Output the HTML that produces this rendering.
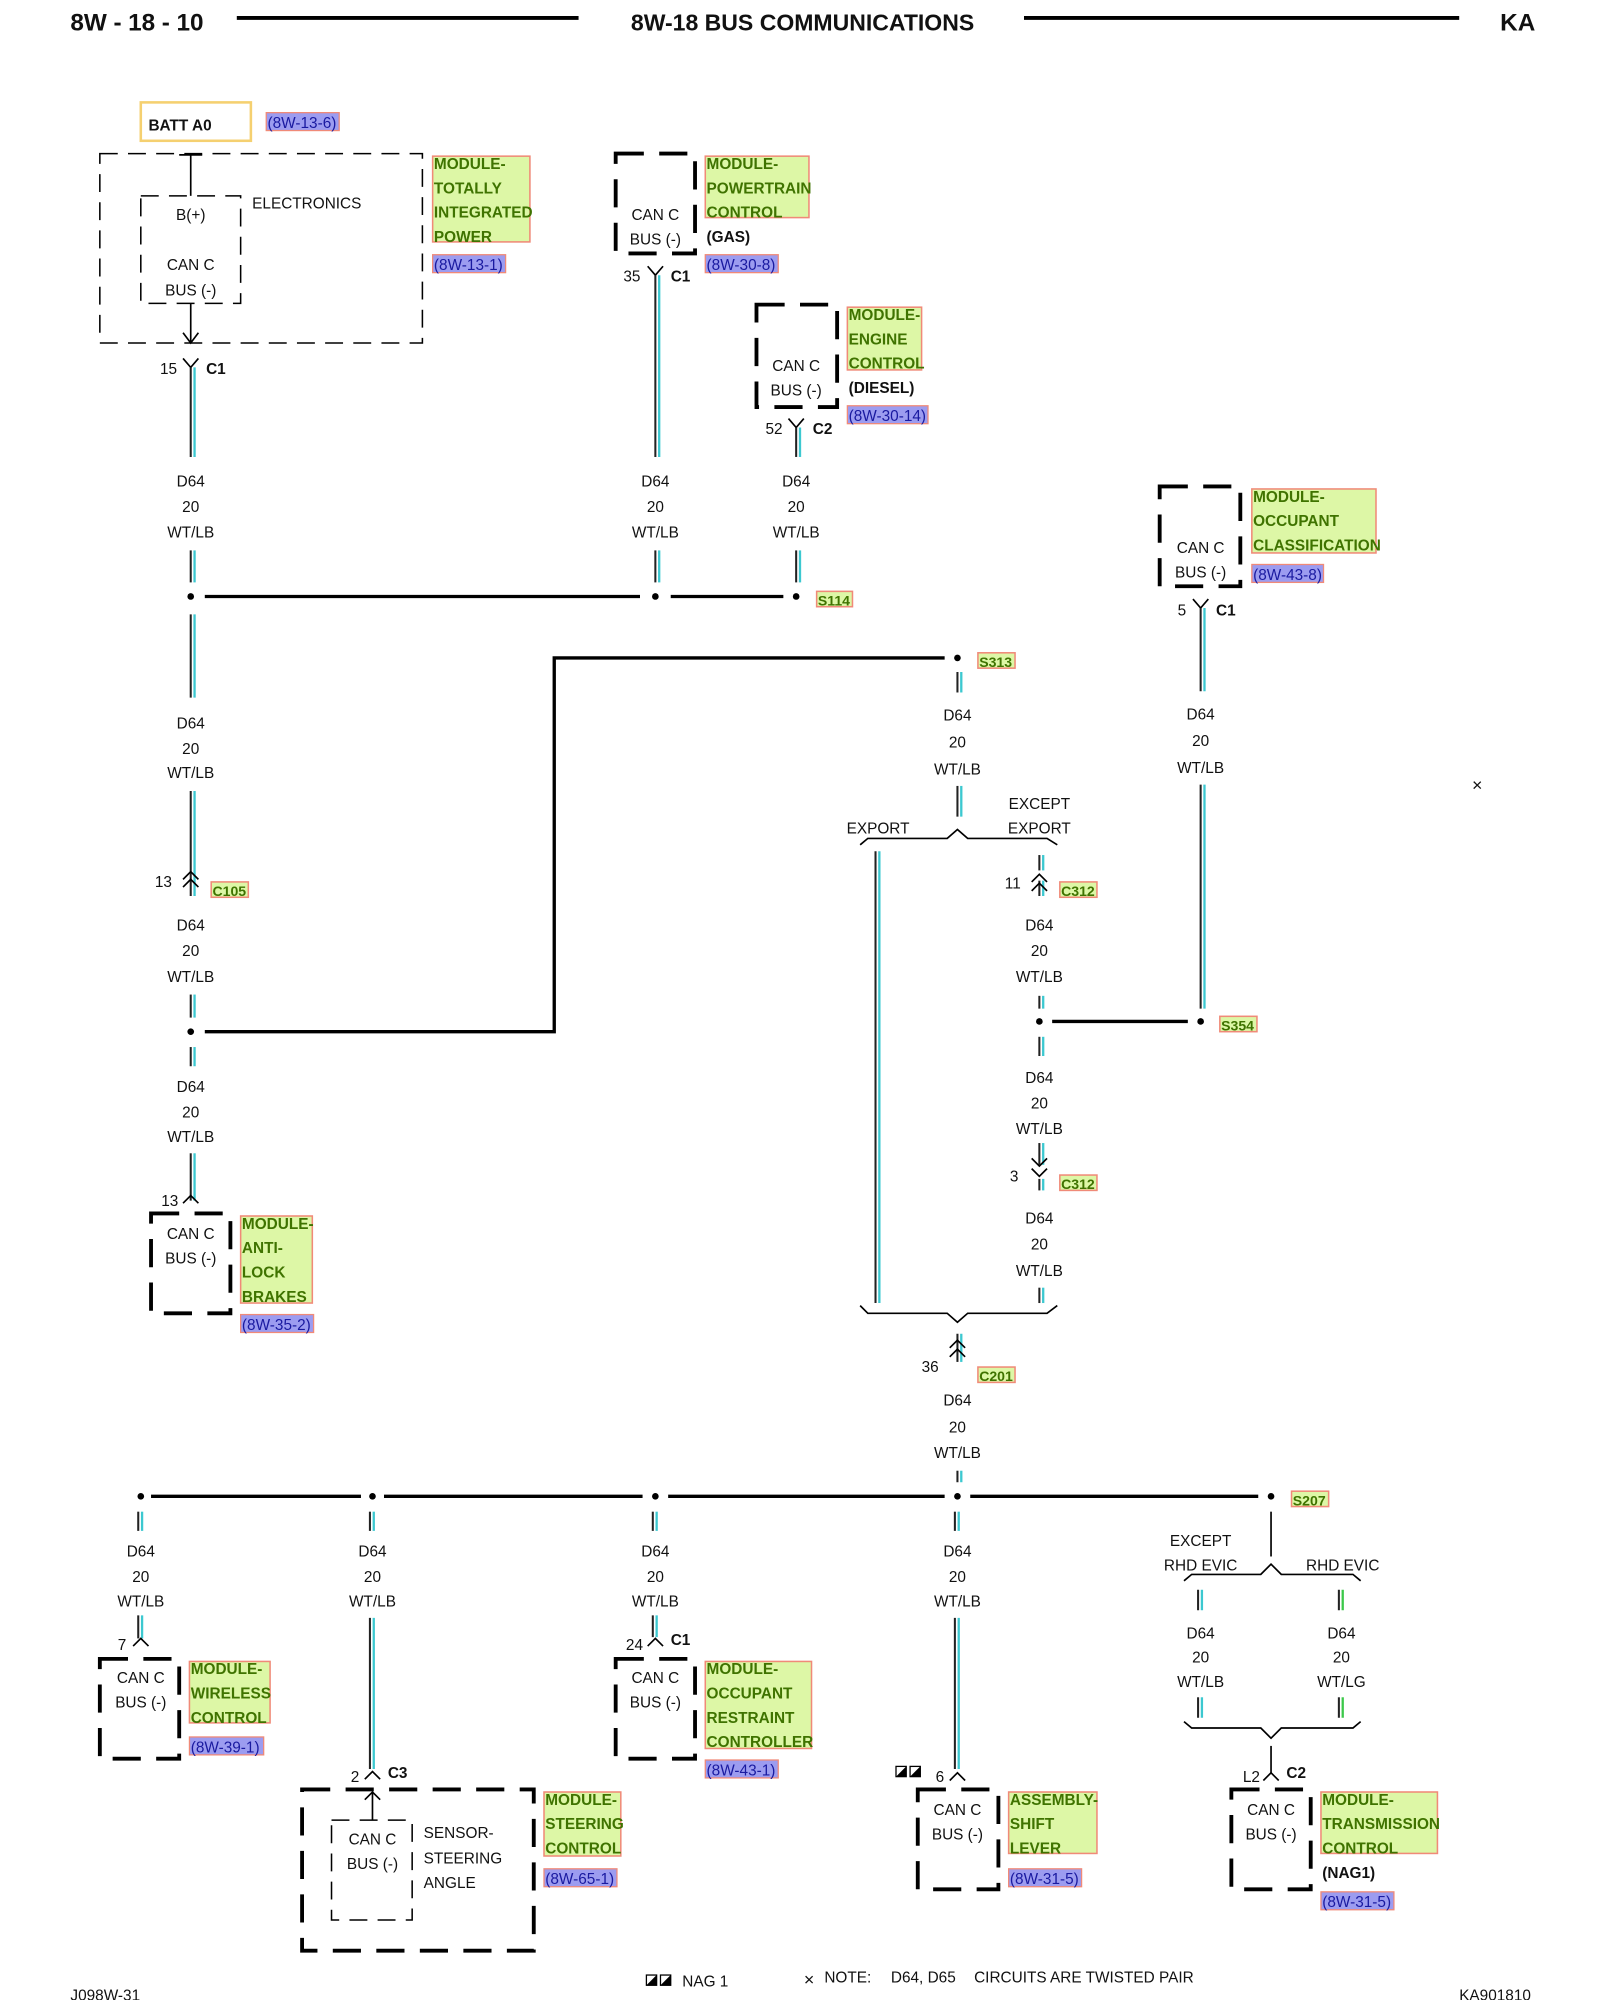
<!DOCTYPE html>
<html><head><meta charset="utf-8"><style>
html,body{margin:0;padding:0;background:#fff}
svg{display:block}
text{font-family:"Liberation Sans",Arial,sans-serif;font-size:12px;fill:#111}
.c{text-anchor:middle}
.b{font-weight:bold}
.g{font-weight:bold;fill:#3f7300;font-size:12px}
.r{fill:#1a1aa0;font-size:12px}
.k{stroke:#222;stroke-width:1.6}
.y{stroke:#3cc8d0;stroke-width:1.8}
.gr{stroke:#3cc84a;stroke-width:1.8}
.gb{fill:#ddf7a6;stroke:#f08a78;stroke-width:1.2}
.rb{fill:#9c9cf0;stroke:#f08a78;stroke-width:1}
.tb{fill:none;stroke:#000;stroke-width:3;stroke-dasharray:22 12}
.td{fill:none;stroke:#000;stroke-width:1.2;stroke-dasharray:14 8}
.l{stroke:#000;stroke-width:1.3;fill:none}
.bus{stroke:#000;stroke-width:2.6}
</style></head><body>
<svg width="1600" height="2000" viewBox="0 0 1250 1562.5" xmlns="http://www.w3.org/2000/svg">
<!-- header -->
<text x="55" y="24" style="font-size:19px;font-weight:bold" textLength="104">8W - 18 - 10</text>
<line x1="185" y1="14" x2="452" y2="14" stroke="#000" stroke-width="3"/>
<text x="627" y="24" class="c" style="font-size:18px;font-weight:bold">8W-18 BUS COMMUNICATIONS</text>
<line x1="800" y1="14" x2="1140" y2="14" stroke="#000" stroke-width="3"/>
<text x="1172" y="24" style="font-size:19px;font-weight:bold">KA</text>

<!-- BATT -->
<rect x="110" y="80" width="86" height="30" fill="none" stroke="#f5d070" stroke-width="2"/>
<text x="116" y="102" class="b">BATT A0</text>
<rect x="208" y="88" width="57" height="14" class="rb"/><text x="209" y="100" class="r">(8W-13-6)</text>

<!-- TIPM -->
<rect x="78" y="120" width="252" height="148" class="td"/>
<rect x="110" y="153" width="78" height="84" class="td"/>
<line x1="149" y1="120" x2="149" y2="153" class="l"/><line x1="140" y1="121" x2="158" y2="121" class="l"/>
<text x="149" y="172" class="c">B(+)</text><text x="149" y="211" class="c">CAN C</text><text x="149" y="231" class="c">BUS (-)</text>
<text x="197" y="163">ELECTRONICS</text>
<path d="M149 237V268M143 260L149 268L155 260" class="l"/>
<rect x="338" y="122" width="76" height="67" class="gb"/>
<text x="339" y="132" class="g">MODULE-</text><text x="339" y="151" class="g">TOTALLY</text><text x="339" y="170" class="g">INTEGRATED</text><text x="339" y="189" class="g">POWER</text>
<rect x="338" y="199" width="57" height="14" class="rb"/><text x="339" y="211" class="r">(8W-13-1)</text>
<path d="M143 280L149 287L155 280" class="l"/><text x="125" y="292">15</text><text x="161" y="292" class="b">C1</text>

<!-- PCM -->
<rect x="481" y="120" width="62" height="78" class="tb"/>
<text x="512" y="172" class="c">CAN C</text><text x="512" y="191" class="c">BUS (-)</text>
<rect x="551" y="122" width="81" height="48" class="gb"/>
<text x="552" y="132" class="g">MODULE-</text><text x="552" y="151" class="g">POWERTRAIN</text><text x="552" y="170" class="g">CONTROL</text>
<text x="552" y="189" class="b">(GAS)</text>
<rect x="551" y="199" width="57" height="14" class="rb"/><text x="552" y="211" class="r">(8W-30-8)</text>
<path d="M506 208L512 215L518 208" class="l"/><text x="487" y="220">35</text><text x="524" y="220" class="b">C1</text>

<!-- ECM -->
<rect x="591" y="238" width="63" height="80" class="tb"/>
<text x="622" y="290" class="c">CAN C</text><text x="622" y="309" class="c">BUS (-)</text>
<rect x="662" y="240" width="58" height="49" class="gb"/>
<text x="663" y="250" class="g">MODULE-</text><text x="663" y="269" class="g">ENGINE</text><text x="663" y="288" class="g">CONTROL</text>
<text x="663" y="307" class="b">(DIESEL)</text>
<rect x="662" y="317" width="63" height="14" class="rb"/><text x="663" y="329" class="r">(8W-30-14)</text>
<path d="M616 327L622 334L628 327" class="l"/><text x="598" y="339">52</text><text x="635" y="339" class="b">C2</text>

<!-- OCM -->
<rect x="906" y="380" width="63" height="78" class="tb"/>
<text x="938" y="432" class="c">CAN C</text><text x="938" y="451" class="c">BUS (-)</text>
<rect x="978" y="382" width="97" height="50" class="gb"/>
<text x="979" y="392" class="g">MODULE-</text><text x="979" y="411" class="g">OCCUPANT</text><text x="979" y="430" class="g">CLASSIFICATION</text>
<rect x="978" y="441" width="56" height="14" class="rb"/><text x="979" y="453" class="r">(8W-43-8)</text>
<path d="M932 468L938 475L944 468" class="l"/><text x="920" y="481">5</text><text x="950" y="481" class="b">C1</text>

<!-- wires top -->
<g>
<line x1="149" y1="287" x2="149" y2="357" class="k"/><line x1="152" y1="287" x2="152" y2="357" class="y"/>
<line x1="149" y1="430" x2="149" y2="455" class="k"/><line x1="152" y1="430" x2="152" y2="455" class="y"/>
<line x1="512" y1="215" x2="512" y2="357" class="k"/><line x1="515" y1="215" x2="515" y2="357" class="y"/>
<line x1="512" y1="430" x2="512" y2="455" class="k"/><line x1="515" y1="430" x2="515" y2="455" class="y"/>
<line x1="622" y1="334" x2="622" y2="357" class="k"/><line x1="625" y1="334" x2="625" y2="357" class="y"/>
<line x1="622" y1="430" x2="622" y2="455" class="k"/><line x1="625" y1="430" x2="625" y2="455" class="y"/>
<line x1="938" y1="475" x2="938" y2="540" class="k"/><line x1="941" y1="475" x2="941" y2="540" class="y"/>
<line x1="938" y1="613" x2="938" y2="788" class="k"/><line x1="941" y1="613" x2="941" y2="788" class="y"/>
</g>
<g class="c">
<text x="149" y="380" class="c">D64</text><text x="149" y="400" class="c">20</text><text x="149" y="420" class="c">WT/LB</text>
<text x="512" y="380" class="c">D64</text><text x="512" y="400" class="c">20</text><text x="512" y="420" class="c">WT/LB</text>
<text x="622" y="380" class="c">D64</text><text x="622" y="400" class="c">20</text><text x="622" y="420" class="c">WT/LB</text>
<text x="938" y="562" class="c">D64</text><text x="938" y="583" class="c">20</text><text x="938" y="604" class="c">WT/LB</text>
</g>
<!-- bus S114 -->
<line x1="160" y1="466" x2="500" y2="466" class="bus"/><line x1="524" y1="466" x2="612" y2="466" class="bus"/>
<circle cx="149" cy="466" r="2.6"/><circle cx="512" cy="466" r="2.6"/><circle cx="622" cy="466" r="2.6"/>
<rect x="638" y="462" width="28" height="12" class="gb"/><text x="639" y="473" class="g" style="font-size:11px">S114</text>

<!-- left column -->
<line x1="149" y1="480" x2="149" y2="545" class="k"/><line x1="152" y1="480" x2="152" y2="545" class="y"/>
<text x="149" y="569" class="c">D64</text><text x="149" y="589" class="c">20</text><text x="149" y="608" class="c">WT/LB</text>
<line x1="149" y1="618" x2="149" y2="700" class="k"/><line x1="152" y1="618" x2="152" y2="700" class="y"/>
<path d="M143 687L149 681L155 687M143 693L149 687L155 693" class="l"/>
<text x="121" y="693">13</text>
<rect x="165" y="689" width="29" height="12" class="gb"/><text x="166" y="700" class="g" style="font-size:11px">C105</text>
<text x="149" y="727" class="c">D64</text><text x="149" y="747" class="c">20</text><text x="149" y="767" class="c">WT/LB</text>
<line x1="149" y1="777" x2="149" y2="795" class="k"/><line x1="152" y1="777" x2="152" y2="795" class="y"/>
<circle cx="149" cy="806" r="2.6"/>
<path d="M160 806H433V514H738" class="bus" fill="none"/>
<circle cx="748" cy="514" r="2.6"/>
<rect x="764" y="510" width="29" height="12" class="gb"/><text x="765" y="521" class="g" style="font-size:11px">S313</text>
<line x1="149" y1="818" x2="149" y2="833" class="k"/><line x1="152" y1="818" x2="152" y2="833" class="y"/>
<text x="149" y="853" class="c">D64</text><text x="149" y="873" class="c">20</text><text x="149" y="892" class="c">WT/LB</text>
<line x1="149" y1="901" x2="149" y2="938" class="k"/><line x1="152" y1="901" x2="152" y2="938" class="y"/>
<path d="M143 940L149 934L155 940" class="l"/><text x="126" y="942">13</text>
<rect x="118" y="948" width="62" height="78" class="tb"/>
<text x="149" y="968" class="c">CAN C</text><text x="149" y="987" class="c">BUS (-)</text>
<rect x="188" y="950" width="56" height="68" class="gb"/>
<text x="189" y="960" class="g">MODULE-</text><text x="189" y="979" class="g">ANTI-</text><text x="189" y="998" class="g">LOCK</text><text x="189" y="1017" class="g">BRAKES</text>
<rect x="188" y="1027" width="57" height="14" class="rb"/><text x="189" y="1039" class="r">(8W-35-2)</text>

<!-- S313 column -->
<line x1="748" y1="525" x2="748" y2="541" class="k"/><line x1="751" y1="525" x2="751" y2="541" class="y"/>
<text x="748" y="563" class="c">D64</text><text x="748" y="584" class="c">20</text><text x="748" y="605" class="c">WT/LB</text>
<line x1="748" y1="614" x2="748" y2="638" class="k"/><line x1="751" y1="614" x2="751" y2="638" class="y"/>
<path d="M672 660L678 655H740L748 648L756 655H818L826 660" class="l"/>
<text x="686" y="651" class="c">EXPORT</text><text x="812" y="632" class="c">EXCEPT</text><text x="812" y="651" class="c">EXPORT</text>
<line x1="684" y1="665" x2="684" y2="1018" class="k"/><line x1="687" y1="665" x2="687" y2="1018" class="y"/>
<line x1="812" y1="668" x2="812" y2="680" class="k"/><line x1="815" y1="668" x2="815" y2="680" class="y"/>
<line x1="812" y1="688" x2="812" y2="700" class="k"/><line x1="815" y1="688" x2="815" y2="700" class="y"/>
<path d="M806 689L812 683L818 689M806 696L812 690L818 696" class="l"/>
<text x="785" y="694">11</text>
<rect x="828" y="689" width="29" height="12" class="gb"/><text x="829" y="700" class="g" style="font-size:11px">C312</text>
<text x="812" y="727" class="c">D64</text><text x="812" y="747" class="c">20</text><text x="812" y="767" class="c">WT/LB</text>
<line x1="812" y1="778" x2="812" y2="788" class="k"/><line x1="815" y1="778" x2="815" y2="788" class="y"/>
<circle cx="812" cy="798" r="2.6"/><circle cx="938" cy="798" r="2.6"/>
<line x1="822" y1="798" x2="928" y2="798" class="bus"/>
<rect x="953" y="794" width="29" height="12" class="gb"/><text x="954" y="805" class="g" style="font-size:11px">S354</text>
<line x1="812" y1="810" x2="812" y2="825" class="k"/><line x1="815" y1="810" x2="815" y2="825" class="y"/>
<text x="812" y="846" class="c">D64</text><text x="812" y="866" class="c">20</text><text x="812" y="886" class="c">WT/LB</text>
<line x1="812" y1="893" x2="812" y2="910" class="k"/><line x1="815" y1="893" x2="815" y2="910" class="y"/>
<path d="M806 905L812 911L818 905M806 913L812 919L818 913" class="l"/>
<text x="789" y="923">3</text>
<rect x="828" y="918" width="29" height="12" class="gb"/><text x="829" y="929" class="g" style="font-size:11px">C312</text>
<line x1="812" y1="921" x2="812" y2="930" class="k"/><line x1="815" y1="921" x2="815" y2="930" class="y"/>
<text x="812" y="956" class="c">D64</text><text x="812" y="976" class="c">20</text><text x="812" y="997" class="c">WT/LB</text>
<line x1="812" y1="1006" x2="812" y2="1018" class="k"/><line x1="815" y1="1006" x2="815" y2="1018" class="y"/>
<path d="M672 1020L678 1026H740L748 1033L756 1026H818L826 1020" class="l"/>
<line x1="748" y1="1042" x2="748" y2="1064" class="k"/><line x1="751" y1="1042" x2="751" y2="1064" class="y"/>
<path d="M742 1053L748 1047L754 1053M742 1060L748 1054L754 1060" class="l"/>
<text x="720" y="1072">36</text>
<rect x="764" y="1068" width="29" height="12" class="gb"/><text x="765" y="1079" class="g" style="font-size:11px">C201</text>
<text x="748" y="1098" class="c">D64</text><text x="748" y="1119" class="c">20</text><text x="748" y="1139" class="c">WT/LB</text>
<line x1="748" y1="1149" x2="748" y2="1158" class="k"/><line x1="751" y1="1149" x2="751" y2="1158" class="y"/>

<!-- twisted pair mark -->
<text x="1150" y="618" style="font-size:14px">×</text>

<!-- bottom bus -->
<line x1="118" y1="1169" x2="282" y2="1169" class="bus"/><line x1="300" y1="1169" x2="502" y2="1169" class="bus"/>
<line x1="522" y1="1169" x2="738" y2="1169" class="bus"/><line x1="758" y1="1169" x2="983" y2="1169" class="bus"/>
<circle cx="110" cy="1169" r="2.6"/><circle cx="291" cy="1169" r="2.6"/><circle cx="512" cy="1169" r="2.6"/><circle cx="748" cy="1169" r="2.6"/><circle cx="993" cy="1169" r="2.6"/>
<rect x="1009" y="1165" width="29" height="12" class="gb"/><text x="1010" y="1176" class="g" style="font-size:11px">S207</text>

<!-- branch wires -->
<g>
<line x1="108" y1="1181" x2="108" y2="1196" class="k"/><line x1="111" y1="1181" x2="111" y2="1196" class="y"/>
<line x1="108" y1="1262" x2="108" y2="1280" class="k"/><line x1="111" y1="1262" x2="111" y2="1280" class="y"/>
<line x1="289" y1="1181" x2="289" y2="1196" class="k"/><line x1="292" y1="1181" x2="292" y2="1196" class="y"/>
<line x1="289" y1="1264" x2="289" y2="1382" class="k"/><line x1="292" y1="1264" x2="292" y2="1382" class="y"/>
<line x1="510" y1="1181" x2="510" y2="1196" class="k"/><line x1="513" y1="1181" x2="513" y2="1196" class="y"/>
<line x1="510" y1="1262" x2="510" y2="1279" class="k"/><line x1="513" y1="1262" x2="513" y2="1279" class="y"/>
<line x1="746" y1="1181" x2="746" y2="1196" class="k"/><line x1="749" y1="1181" x2="749" y2="1196" class="y"/>
<line x1="746" y1="1264" x2="746" y2="1382" class="k"/><line x1="749" y1="1264" x2="749" y2="1382" class="y"/>
</g>
<text x="110" y="1216" class="c">D64</text><text x="110" y="1236" class="c">20</text><text x="110" y="1255" class="c">WT/LB</text>
<text x="291" y="1216" class="c">D64</text><text x="291" y="1236" class="c">20</text><text x="291" y="1255" class="c">WT/LB</text>
<text x="512" y="1216" class="c">D64</text><text x="512" y="1236" class="c">20</text><text x="512" y="1255" class="c">WT/LB</text>
<text x="748" y="1216" class="c">D64</text><text x="748" y="1236" class="c">20</text><text x="748" y="1255" class="c">WT/LB</text>

<!-- wireless -->
<path d="M104 1286L110 1280L116 1286" class="l"/><text x="92" y="1289">7</text>
<rect x="78" y="1296" width="62" height="78" class="tb"/>
<text x="110" y="1315" class="c">CAN C</text><text x="110" y="1334" class="c">BUS (-)</text>
<rect x="148" y="1298" width="63" height="48" class="gb"/>
<text x="149" y="1308" class="g">MODULE-</text><text x="149" y="1327" class="g">WIRELESS</text><text x="149" y="1346" class="g">CONTROL</text>
<rect x="148" y="1357" width="58" height="14" class="rb"/><text x="149" y="1369" class="r">(8W-39-1)</text>

<!-- SAS -->
<path d="M285 1390L291 1384L297 1390" class="l"/><text x="274" y="1392">2</text><text x="303" y="1389" class="b">C3</text>
<rect x="236" y="1398" width="181" height="126" class="tb"/>
<rect x="259" y="1422" width="63" height="78" class="td"/>
<path d="M291 1422V1400M285 1406L291 1400L297 1406" class="l"/>
<text x="291" y="1441" class="c">CAN C</text><text x="291" y="1460" class="c">BUS (-)</text>
<text x="331" y="1436">SENSOR-</text><text x="331" y="1456">STEERING</text><text x="331" y="1475">ANGLE</text>
<rect x="425" y="1400" width="60" height="50" class="gb"/>
<text x="426" y="1410" class="g">MODULE-</text><text x="426" y="1429" class="g">STEERING</text><text x="426" y="1448" class="g">CONTROL</text>
<rect x="425" y="1460" width="57" height="14" class="rb"/><text x="426" y="1472" class="r">(8W-65-1)</text>

<!-- ORC -->
<path d="M506 1286L512 1280L518 1286" class="l"/><text x="489" y="1289">24</text><text x="524" y="1285" class="b">C1</text>
<rect x="481" y="1296" width="62" height="78" class="tb"/>
<text x="512" y="1315" class="c">CAN C</text><text x="512" y="1334" class="c">BUS (-)</text>
<rect x="551" y="1298" width="83" height="68" class="gb"/>
<text x="552" y="1308" class="g">MODULE-</text><text x="552" y="1327" class="g">OCCUPANT</text><text x="552" y="1346" class="g">RESTRAINT</text><text x="552" y="1365" class="g">CONTROLLER</text>
<rect x="551" y="1375" width="57" height="14" class="rb"/><text x="552" y="1387" class="r">(8W-43-1)</text>

<!-- shift -->
<rect x="700" y="1380" width="8" height="8" fill="none" stroke="#000"/><path d="M700 1388L708 1380V1388Z"/>
<rect x="711" y="1380" width="8" height="8" fill="none" stroke="#000"/><path d="M711 1388L719 1380V1388Z"/>
<path d="M742 1391L748 1385L754 1391" class="l"/><text x="731" y="1392">6</text>
<rect x="717" y="1398" width="63" height="78" class="tb"/>
<text x="748" y="1418" class="c">CAN C</text><text x="748" y="1437" class="c">BUS (-)</text>
<rect x="788" y="1400" width="69" height="48" class="gb"/>
<text x="789" y="1410" class="g">ASSEMBLY-</text><text x="789" y="1429" class="g">SHIFT</text><text x="789" y="1448" class="g">LEVER</text>
<rect x="788" y="1460" width="57" height="14" class="rb"/><text x="789" y="1472" class="r">(8W-31-5)</text>

<!-- TCM branch -->
<line x1="993" y1="1181" x2="993" y2="1216" class="l"/>
<path d="M925 1235L931 1230H985L993 1222L1001 1230H1057L1063 1235" class="l"/>
<text x="938" y="1208" class="c">EXCEPT</text><text x="938" y="1227" class="c">RHD EVIC</text><text x="1049" y="1227" class="c">RHD EVIC</text>
<line x1="936" y1="1242" x2="936" y2="1258" class="k"/><line x1="939" y1="1242" x2="939" y2="1258" class="y"/>
<line x1="1046" y1="1242" x2="1046" y2="1258" class="k"/><line x1="1049" y1="1242" x2="1049" y2="1258" class="gr"/>
<text x="938" y="1280" class="c">D64</text><text x="938" y="1299" class="c">20</text><text x="938" y="1318" class="c">WT/LB</text>
<text x="1048" y="1280" class="c">D64</text><text x="1048" y="1299" class="c">20</text><text x="1048" y="1318" class="c">WT/LG</text>
<line x1="936" y1="1326" x2="936" y2="1342" class="k"/><line x1="939" y1="1326" x2="939" y2="1342" class="y"/>
<line x1="1046" y1="1326" x2="1046" y2="1342" class="k"/><line x1="1049" y1="1326" x2="1049" y2="1342" class="gr"/>
<path d="M925 1345L931 1350H985L993 1358L1001 1350H1057L1063 1345" class="l"/>
<line x1="993" y1="1364" x2="993" y2="1385" class="l"/>
<path d="M987 1391L993 1385L999 1391" class="l"/><text x="971" y="1392">L2</text><text x="1005" y="1389" class="b">C2</text>
<rect x="962" y="1398" width="62" height="78" class="tb"/>
<text x="993" y="1418" class="c">CAN C</text><text x="993" y="1437" class="c">BUS (-)</text>
<rect x="1032" y="1400" width="91" height="48" class="gb"/>
<text x="1033" y="1410" class="g">MODULE-</text><text x="1033" y="1429" class="g">TRANSMISSION</text><text x="1033" y="1448" class="g">CONTROL</text>
<text x="1033" y="1467" class="b">(NAG1)</text>
<rect x="1032" y="1478" width="57" height="14" class="rb"/><text x="1033" y="1490" class="r">(8W-31-5)</text>

<!-- footer -->
<text x="55" y="1563">J098W-31</text>
<rect x="505" y="1543" width="8" height="8" fill="none" stroke="#000"/><path d="M505 1551L513 1543V1551Z"/>
<rect x="516" y="1543" width="8" height="8" fill="none" stroke="#000"/><path d="M516 1551L524 1543V1551Z"/>
<text x="533" y="1552">NAG 1</text>
<text x="628" y="1551" style="font-size:14px">×</text>
<text x="644" y="1549">NOTE:</text><text x="696" y="1549">D64, D65</text><text x="761" y="1549">CIRCUITS ARE TWISTED PAIR</text>
<text x="1140" y="1563">KA901810</text>
</svg>
</body></html>
